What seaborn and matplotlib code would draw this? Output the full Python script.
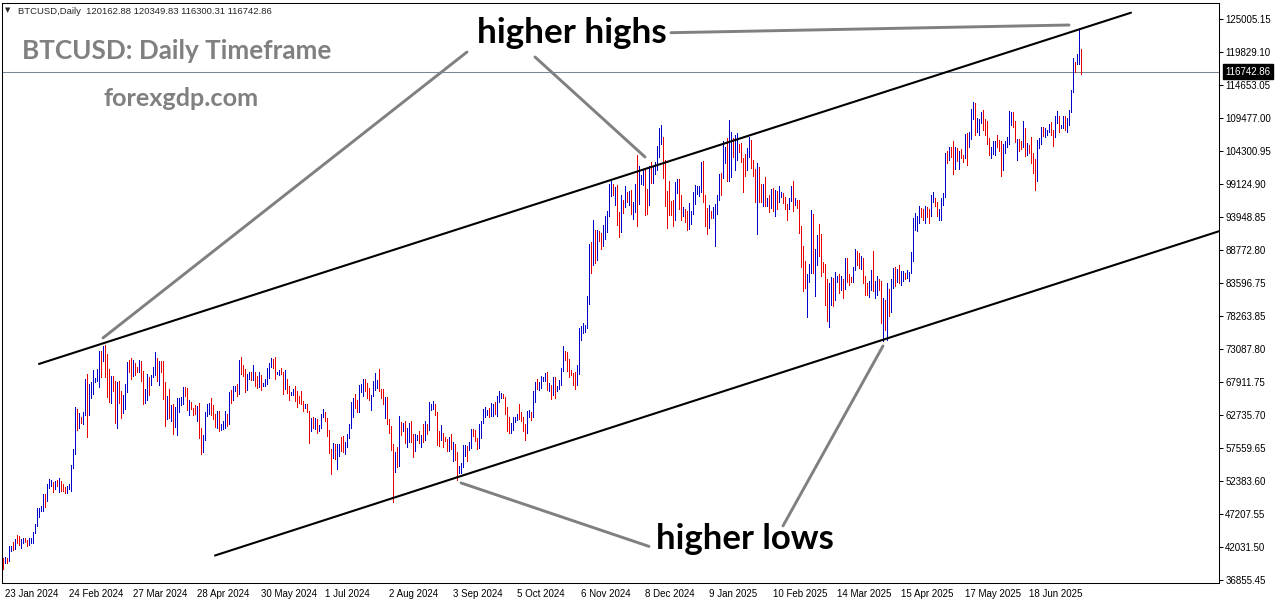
import matplotlib
matplotlib.use("Agg")
import matplotlib.pyplot as plt
from matplotlib.transforms import ScaledTranslation
import numpy as np
import pandas as pd
import seaborn as sns

# BTCUSD daily bars, 23 Jan 2024 .. 15 Jul 2025, prices in thousands of USD
start_date = "2024-01-23"
first_open_k = 40.2

high_k = [
    40.3, 40.5, 40.3, 42.2, 42.2, 42.8, 43.3, 43.9, 43.7,  # Jan 24
    43.3, 43.5, 43.4, 43.1, 43.5, 43.4, 44.4, 45.6, 48.2, 48.1, 48.5, 50.3, 50.4, 52.0, 52.8, 52.6, 52.2, 52.4, 52.5, 52.9, 52.4, 52.0, 51.5, 51.7, 51.9, 54.9, 57.5, 64.0, 63.7,  # Feb
    63.1, 62.4, 63.2, 68.5, 69.2, 67.6, 67.9, 69.9, 68.6, 70.0, 72.8, 72.9, 73.7, 73.8, 72.4, 70.0, 68.9, 68.9, 68.1, 68.0, 68.2, 66.6, 65.9, 67.6, 71.1, 71.5, 71.7, 71.5, 70.9, 70.3, 71.4,  # Mar
    71.3, 69.7, 66.9, 69.3, 68.7, 69.0, 70.3, 72.7, 71.8, 71.2, 71.3, 71.2, 67.9, 65.8, 66.8, 64.4, 64.5, 64.0, 65.4, 65.4, 65.6, 67.2, 67.2, 67.0, 65.2, 64.8, 63.9, 64.3, 64.2, 64.7,  # Apr
    60.8, 59.6, 63.3, 64.5, 64.6, 65.5, 64.4, 62.9, 63.4, 63.4, 61.4, 61.8, 63.4, 63.0, 66.4, 66.7, 67.4, 67.4, 67.7, 71.5, 71.9, 70.6, 70.0, 69.2, 69.6, 69.5, 70.6, 69.5, 68.9, 69.5, 69.0,  # May
    67.8, 68.4, 70.2, 71.0, 71.7, 71.6, 71.9, 69.5, 69.9, 70.2, 69.6, 69.9, 68.4, 67.3, 66.4, 66.9, 67.3, 66.5, 65.7, 66.5, 65.0, 64.5, 64.5, 63.4, 62.3, 62.5, 62.3, 62.2, 61.2, 63.0,  # Jun
    63.8, 63.3, 62.3, 60.5, 57.5, 58.4, 58.2, 58.2, 58.3, 59.4, 59.5, 58.5, 59.8, 61.4, 64.9, 65.4, 66.1, 65.1, 67.5, 67.6, 68.4, 68.5, 67.8, 67.1, 66.0, 68.2, 69.4, 68.3, 70.0, 66.9, 66.8,  # Jul
    65.6, 65.6, 62.2, 61.1, 58.3, 57.0, 57.7, 62.7, 61.7, 61.5, 61.8, 60.7, 61.6, 61.8, 59.8, 59.8, 59.7, 60.3, 59.6, 61.4, 61.8, 61.4, 64.9, 64.5, 65.0, 64.5, 63.2, 60.2, 61.2, 59.9, 59.4,  # Aug
    59.0, 59.4, 59.8, 58.5, 58.3, 56.9, 54.8, 55.3, 58.1, 58.0, 57.9, 58.6, 60.6, 60.6, 60.4, 59.2, 61.3, 61.8, 63.8, 64.1, 63.6, 63.9, 64.7, 64.5, 64.8, 65.8, 66.5, 66.3, 66.1, 65.6,  # Sep
    64.1, 62.4, 61.5, 62.5, 62.4, 63.0, 64.5, 63.2, 62.5, 61.3, 63.4, 63.5, 63.3, 66.5, 67.9, 68.4, 67.9, 68.9, 68.7, 69.4, 69.5, 67.8, 67.5, 68.8, 68.8, 67.4, 68.3, 70.2, 73.6, 72.9, 72.7,  # Oct
    71.6, 69.9, 69.4, 69.5, 70.6, 76.4, 76.8, 77.2, 76.9, 81.5, 89.6, 89.9, 93.4, 91.8, 91.9, 91.7, 91.4, 92.6, 94.0, 94.9, 99.0, 99.6, 99.0, 98.6, 98.9, 94.7, 97.3, 96.6, 98.7, 97.8,  # Nov
    98.0, 98.2, 96.3, 99.1, 103.7, 101.9, 100.5, 101.3, 101.3, 98.3, 101.9, 102.5, 101.9, 102.6, 105.1, 107.8, 108.3, 106.5, 102.8, 98.0, 99.5, 96.4, 96.5, 99.4, 99.9, 99.9, 97.3, 95.5, 95.2, 94.9, 96.1,  # Dec
    94.9, 97.8, 98.9, 98.7, 98.8, 102.5, 102.7, 97.3, 95.3, 95.8, 94.9, 95.4, 95.9, 97.3, 100.7, 100.8, 105.8, 104.9, 106.3, 109.1, 107.2, 106.3, 106.8, 107.1, 105.3, 105.5, 103.2, 103.8, 104.8, 106.4, 106.0,  # Jan 25
    102.8, 101.5, 102.4, 101.7, 99.0, 99.1, 100.1, 96.9, 97.3, 98.3, 98.5, 98.1, 98.0, 98.8, 97.9, 97.7, 97.0, 96.0, 96.9, 98.7, 99.5, 96.9, 96.6, 96.5, 92.5, 89.3, 87.0, 85.0,  # Feb
    86.5, 95.0, 94.4, 88.9, 91.0, 92.8, 91.2, 86.9, 86.5, 84.1, 83.6, 84.4, 84.3, 85.3, 84.7, 85.0, 84.7, 84.1, 87.4, 87.4, 84.9, 84.5, 86.1, 88.8, 88.5, 88.3, 87.8, 87.5, 84.6, 83.5, 83.9,  # Mar
    85.5, 88.5, 83.9, 84.7, 84.2, 83.8, 81.2, 80.8, 83.5, 82.6, 84.2, 85.9, 86.1, 85.8, 86.4, 85.4, 85.4, 85.1, 85.6, 85.3, 88.4, 93.8, 94.6, 94.0, 95.7, 95.3, 95.2, 95.6, 95.5, 95.2,  # Apr
    97.4, 97.9, 96.9, 96.3, 95.2, 96.9, 97.7, 103.9, 104.3, 104.9, 104.9, 105.8, 104.9, 104.7, 104.2, 104.6, 103.7, 107.0, 107.1, 107.3, 110.8, 111.9, 111.8, 109.5, 109.3, 110.4, 110.7, 109.3, 108.9, 106.3, 104.9,  # May
    105.9, 105.9, 106.8, 106.0, 105.9, 105.4, 105.9, 106.4, 110.6, 110.4, 110.4, 109.0, 106.2, 106.2, 105.9, 108.9, 107.8, 105.5, 105.2, 106.5, 104.0, 103.0, 106.0, 106.3, 108.1, 108.0, 107.8, 107.6, 108.5, 108.8,  # Jun
    107.5, 109.8, 110.5, 109.7, 108.4, 109.7, 109.7, 109.4, 110.7, 113.9, 118.8, 118.3, 119.5, 123.3, 120.35,  # Jul
]
low_k = [
    38.6, 39.5, 39.5, 39.8, 41.4, 41.6, 41.8, 42.7, 42.3,  # Jan 24
    41.9, 42.6, 42.9, 42.2, 42.3, 42.6, 42.7, 44.3, 45.3, 46.8, 47.7, 47.7, 48.4, 49.3, 51.3, 51.6, 50.7, 51.2, 51.6, 50.7, 50.8, 50.9, 50.5, 50.6, 51.2, 50.9, 54.4, 56.7, 60.4,  # Feb
    60.8, 61.6, 61.3, 62.8, 59.3, 62.8, 65.5, 66.1, 68.0, 68.2, 67.2, 68.8, 71.3, 68.7, 65.6, 64.8, 64.6, 66.6, 61.5, 60.8, 64.6, 62.3, 63.1, 63.8, 66.4, 69.5, 68.4, 68.9, 69.1, 69.6, 69.6,  # Mar
    68.2, 64.5, 64.6, 65.1, 66.0, 67.5, 68.8, 69.1, 68.2, 67.5, 69.6, 65.3, 61.0, 62.2, 62.3, 61.8, 59.8, 60.9, 59.7, 63.2, 64.3, 64.5, 65.8, 63.6, 62.8, 63.8, 62.8, 62.9, 61.8, 59.2,  # Apr
    56.6, 56.9, 58.8, 62.6, 62.9, 62.8, 62.2, 60.9, 60.7, 60.3, 60.5, 60.6, 60.8, 61.1, 61.4, 64.6, 65.1, 66.6, 65.8, 66.1, 69.2, 68.9, 66.4, 66.7, 68.4, 68.3, 68.3, 67.3, 67.1, 67.2, 66.7,  # May
    67.4, 67.3, 67.6, 68.6, 70.4, 70.2, 68.5, 69.2, 69.1, 69.2, 66.1, 66.9, 66.3, 65.1, 65.9, 66.0, 65.0, 64.1, 64.7, 64.5, 63.4, 63.9, 63.2, 58.4, 60.3, 60.7, 60.6, 60.0, 60.3, 60.7,  # Jun
    62.5, 61.8, 59.5, 56.8, 53.5, 56.0, 55.8, 54.3, 56.3, 57.2, 57.0, 56.6, 57.8, 59.2, 60.7, 62.5, 63.9, 63.2, 63.3, 66.4, 65.8, 66.6, 65.5, 65.1, 63.5, 65.8, 66.7, 67.0, 66.6, 65.4, 64.5,  # Jul
    62.3, 61.3, 59.9, 57.3, 49.1, 53.9, 54.6, 54.8, 59.7, 60.3, 58.4, 57.7, 58.5, 58.5, 56.2, 57.1, 58.8, 58.4, 57.8, 58.6, 58.8, 59.8, 60.4, 63.6, 63.8, 62.8, 58.1, 57.9, 58.8, 57.8, 58.7,  # Aug
    57.2, 57.1, 57.4, 55.6, 55.7, 52.6, 53.7, 53.6, 54.6, 56.4, 55.6, 57.3, 57.6, 59.5, 58.7, 57.5, 57.6, 59.2, 61.6, 62.4, 62.8, 62.4, 62.7, 62.7, 62.9, 62.7, 64.8, 65.4, 65.4, 62.9,  # Sep
    60.2, 60.0, 59.9, 60.4, 61.7, 62.0, 62.1, 61.8, 60.3, 58.9, 60.0, 62.4, 62.0, 62.4, 64.8, 66.8, 66.7, 67.0, 68.1, 68.1, 66.7, 66.6, 65.3, 66.0, 65.5, 66.5, 66.8, 67.5, 69.7, 71.4, 69.7,  # Oct
    68.8, 69.0, 67.5, 66.8, 67.5, 69.3, 74.5, 75.6, 75.9, 76.5, 80.2, 85.1, 86.3, 86.7, 87.1, 90.1, 88.8, 89.4, 90.4, 91.6, 94.1, 97.2, 97.3, 95.8, 92.6, 90.8, 91.6, 94.6, 95.4, 96.2,  # Nov
    95.8, 94.4, 93.6, 94.7, 92.5, 95.9, 99.1, 98.9, 94.2, 94.3, 95.8, 99.3, 99.2, 100.6, 101.2, 103.3, 105.3, 100.0, 95.7, 92.2, 94.2, 94.2, 92.5, 93.4, 97.6, 95.2, 93.5, 94.1, 93.1, 91.9, 92.0,  # Dec
    92.8, 94.4, 96.0, 97.5, 97.2, 97.9, 96.2, 92.5, 91.2, 92.2, 93.8, 93.7, 89.3, 94.3, 96.5, 97.3, 100.0, 102.3, 99.5, 99.6, 100.2, 103.3, 101.3, 102.8, 104.1, 102.5, 97.8, 100.3, 101.3, 103.3, 101.6,  # Jan 25
    100.3, 96.2, 91.2, 96.2, 96.2, 95.7, 95.7, 95.7, 94.7, 95.3, 94.9, 94.1, 95.2, 96.3, 97.1, 96.1, 95.2, 93.4, 95.1, 96.4, 94.9, 95.8, 95.3, 91.4, 86.1, 82.3, 82.8, 78.2,  # Feb
    83.7, 85.1, 85.1, 81.5, 86.3, 87.8, 84.7, 85.3, 80.0, 77.5, 76.6, 80.0, 79.9, 80.8, 83.7, 82.0, 82.4, 81.1, 82.6, 83.7, 83.2, 83.7, 83.7, 85.6, 86.3, 85.9, 85.8, 83.6, 81.6, 81.6, 81.3,  # Mar
    82.4, 82.3, 81.2, 81.7, 82.4, 77.2, 74.4, 76.2, 74.6, 78.4, 78.9, 82.7, 83.0, 83.7, 83.6, 83.2, 83.9, 84.1, 84.3, 83.9, 85.1, 87.0, 91.9, 91.7, 92.9, 93.9, 93.5, 92.9, 93.9, 92.9,  # Apr
    94.1, 96.3, 95.7, 94.1, 93.5, 93.5, 95.8, 97.0, 102.3, 102.9, 103.3, 100.7, 101.5, 102.7, 101.4, 103.1, 102.6, 103.1, 102.1, 104.9, 106.1, 109.3, 106.8, 107.3, 106.8, 108.7, 107.5, 106.7, 105.3, 103.6, 103.1,  # May
    103.8, 103.7, 104.9, 104.2, 100.4, 101.2, 103.9, 104.9, 105.3, 108.4, 108.1, 105.7, 102.8, 104.3, 104.5, 104.9, 103.4, 103.6, 103.9, 102.4, 100.8, 98.2, 99.6, 104.7, 105.4, 106.6, 106.4, 106.7, 107.2, 106.8,  # Jun
    105.0, 106.5, 108.6, 107.3, 107.8, 107.8, 107.5, 107.3, 108.4, 110.4, 113.6, 116.7, 117.9, 118.0, 116.3,  # Jul
]
close_k = [
    39.9, 40.1, 39.9, 41.8, 42.1, 42.0, 43.3, 42.9, 42.6,  # Jan 24
    43.1, 43.2, 43.0, 42.6, 42.7, 43.1, 44.3, 45.3, 47.1, 47.8, 48.3, 50.0, 49.7, 51.8, 51.9, 52.1, 51.7, 52.1, 51.8, 52.3, 51.8, 51.3, 50.7, 51.6, 51.7, 54.5, 57.1, 62.5, 61.2,  # Feb
    62.4, 62.0, 63.1, 68.3, 63.8, 66.1, 66.9, 68.3, 68.5, 69.0, 72.1, 71.5, 73.1, 71.4, 69.4, 65.3, 68.4, 67.6, 61.9, 67.9, 65.5, 63.8, 64.1, 67.2, 70.0, 69.9, 69.4, 71.0, 70.0, 69.6, 71.3,  # Mar
    69.7, 65.5, 66.0, 68.5, 67.8, 68.9, 69.4, 71.6, 69.1, 70.6, 70.0, 67.1, 63.8, 65.7, 63.4, 63.8, 61.3, 63.5, 63.8, 64.9, 64.9, 66.8, 66.4, 64.3, 64.5, 63.8, 63.4, 63.1, 63.8, 60.6,  # Apr
    58.3, 59.1, 62.9, 63.9, 64.0, 63.2, 62.3, 61.2, 63.1, 60.8, 60.8, 61.5, 62.9, 61.6, 66.3, 65.2, 67.0, 67.0, 66.3, 71.4, 70.1, 69.1, 67.9, 68.5, 69.3, 68.5, 69.4, 68.3, 67.6, 68.4, 67.5,  # May
    67.7, 67.8, 68.8, 70.6, 71.1, 70.8, 69.3, 69.3, 69.6, 69.5, 67.3, 68.2, 66.7, 66.0, 66.2, 66.6, 66.5, 65.2, 65.0, 64.9, 64.1, 64.3, 63.2, 60.3, 61.8, 60.9, 61.7, 60.3, 60.9, 62.7,  # Jun
    62.9, 62.1, 60.2, 57.0, 56.7, 58.2, 55.8, 56.7, 58.0, 57.7, 57.3, 57.9, 59.2, 60.8, 64.8, 65.1, 64.1, 63.9, 66.7, 67.2, 68.2, 67.6, 65.9, 65.4, 65.8, 67.9, 68.0, 68.3, 66.8, 66.2, 64.6,  # Jul
    65.4, 61.5, 60.7, 58.2, 54.0, 56.0, 55.0, 61.7, 60.9, 60.9, 58.7, 59.4, 60.6, 58.7, 57.5, 58.9, 59.5, 58.4, 59.5, 59.0, 61.2, 60.4, 64.1, 64.2, 64.2, 62.8, 59.4, 59.0, 59.4, 59.1, 58.9,  # Aug
    57.3, 59.1, 57.5, 58.0, 56.2, 53.9, 54.1, 54.8, 57.0, 57.6, 57.3, 58.1, 60.5, 60.0, 59.2, 58.2, 60.3, 61.7, 62.9, 63.2, 63.6, 63.3, 63.3, 64.2, 63.1, 65.2, 65.8, 65.8, 65.6, 63.3,  # Sep
    60.8, 60.6, 60.8, 62.1, 62.1, 62.8, 62.2, 62.1, 60.6, 60.3, 62.4, 63.2, 62.8, 66.1, 67.6, 67.4, 67.4, 68.4, 68.4, 69.0, 67.4, 67.4, 66.7, 68.2, 66.6, 67.0, 68.0, 69.9, 72.7, 72.3, 70.2,  # Oct
    69.5, 69.4, 68.8, 67.8, 69.4, 75.6, 75.9, 76.5, 76.7, 80.5, 88.7, 88.0, 90.5, 87.3, 91.1, 90.6, 89.9, 90.5, 92.3, 94.3, 98.4, 98.9, 97.8, 98.0, 93.0, 91.9, 95.9, 95.6, 97.5, 96.4,  # Nov
    97.2, 95.9, 96.0, 98.8, 97.0, 99.9, 99.9, 101.2, 97.4, 96.7, 101.2, 100.0, 101.4, 101.4, 104.3, 106.1, 106.1, 100.0, 97.5, 97.2, 95.2, 94.9, 94.7, 98.7, 99.4, 95.8, 94.2, 95.2, 93.6, 92.6, 93.4,  # Dec
    94.4, 96.9, 98.1, 98.2, 98.3, 102.1, 96.9, 95.0, 92.5, 94.7, 94.5, 94.5, 94.5, 96.5, 100.5, 99.9, 104.1, 104.4, 101.1, 102.0, 106.1, 103.7, 103.9, 104.8, 104.7, 102.6, 102.1, 101.3, 103.7, 104.7, 102.4,  # Jan 25
    100.7, 97.7, 101.4, 97.9, 96.6, 96.6, 96.5, 96.5, 96.1, 97.4, 95.8, 97.9, 96.6, 97.5, 97.6, 96.1, 95.8, 95.5, 96.6, 98.3, 96.1, 96.6, 96.3, 91.6, 88.7, 84.7, 84.4, 84.4,  # Feb
    86.0, 94.3, 86.1, 87.2, 90.6, 89.9, 86.7, 86.1, 80.7, 78.5, 82.9, 83.7, 81.1, 83.9, 84.3, 82.6, 84.1, 82.7, 86.9, 84.2, 84.0, 83.8, 86.1, 87.5, 87.4, 86.9, 87.2, 84.4, 82.6, 82.3, 82.5,  # Mar
    85.2, 82.5, 83.1, 83.8, 83.5, 78.4, 79.2, 76.3, 82.6, 79.6, 83.4, 85.3, 83.7, 84.5, 83.7, 84.0, 84.9, 84.4, 85.1, 85.2, 87.5, 93.4, 93.7, 93.9, 94.7, 94.6, 93.8, 95.0, 94.3, 94.2,  # Apr
    96.5, 96.9, 95.9, 94.3, 94.7, 96.8, 97.0, 103.2, 102.9, 104.6, 104.1, 102.8, 104.2, 103.5, 103.8, 103.5, 103.2, 106.5, 105.6, 106.8, 109.7, 111.7, 107.3, 107.8, 109.0, 109.4, 108.9, 107.8, 105.6, 103.9, 104.6,  # May
    105.7, 105.8, 105.4, 104.7, 101.6, 104.4, 105.6, 105.7, 110.3, 110.3, 108.7, 105.9, 106.1, 105.5, 105.4, 107.1, 104.6, 104.9, 104.6, 103.3, 102.1, 100.9, 105.6, 106.0, 107.3, 106.9, 107.1, 107.3, 108.4, 107.1,  # Jun
    105.7, 108.8, 109.6, 108.0, 108.2, 109.2, 108.3, 108.9, 110.6, 113.7, 117.5, 117.4, 119.1, 119.8, 116.74286,  # Jul
]

# price scale and date scale labels as printed on the chart
y_ticks = [125005.15, 119829.10, 114653.05, 109477.00, 104300.95, 99124.90,
           93948.85, 88772.80, 83596.75, 78263.85, 73087.80, 67911.75,
           62735.70, 57559.65, 52383.60, 47207.55, 42031.50, 36855.45]
x_tick_labels = ["23 Jan 2024", "24 Feb 2024", "27 Mar 2024", "28 Apr 2024",
                 "30 May 2024", "1 Jul 2024", "2 Aug 2024", "3 Sep 2024",
                 "5 Oct 2024", "6 Nov 2024", "8 Dec 2024", "9 Jan 2025",
                 "10 Feb 2025", "14 Mar 2025", "15 Apr 2025", "17 May 2025",
                 "18 Jun 2025"]
header = "BTCUSD,Daily  120162.88 120349.83 116300.31 116742.86"
last_price = 116742.86

# drawn trendlines: (date, price) pairs
channel_lines = {
    "upper": [("2024-02-10", 70805), ("2025-08-09", 125995)],
    "lower": [("2024-05-08", 40706), ("2025-09-24", 91860)],
}
pointer_lines = {
    "hh1": [("2024-03-13", 74890), ("2024-09-11", 119821)],
    "hh2": [("2024-10-15", 119035), ("2024-12-09", 103325)],
    "hh3": [("2024-12-22", 122853), ("2025-07-09", 124062)],
    "hl1": [("2024-09-08", 52111), ("2024-12-11", 42135)],
    "hl2": [("2025-02-16", 45355), ("2025-04-07", 73633)],
}

W, H = 1276, 604
sns.set_style("white")
plt.rcParams["font.family"] = ["Liberation Sans", "DejaVu Sans"]

fig = plt.figure(figsize=(W / 100, H / 100), dpi=100)
ax = fig.add_axes([2 / W, (H - 583) / H, 1217 / W, 580 / H])

t0 = pd.Timestamp(start_date)
days = np.arange(len(close_k))
high = np.array(high_k) * 1000
low = np.array(low_k) * 1000
close = np.array(close_k) * 1000
opens = np.r_[first_open_k * 1000, close[:-1]]  # crypto daily open = prior close
colors = np.where(close >= opens, "#0000C8", "#E80000")

ax.vlines(days, low, high, colors=colors, linewidth=0.5,
          antialiased=False, zorder=2)

# current price line
ax.axhline(last_price, color="#778899", lw=0.75, zorder=1)


def to_frame(lines):
    rows = []
    for name, pts in lines.items():
        for d, p in pts:
            rows.append({"seg": name, "day": (pd.Timestamp(d) - t0).days, "price": p})
    return pd.DataFrame(rows)


sns.lineplot(data=to_frame(channel_lines), x="day", y="price", units="seg",
             estimator=None, sort=False, color="black", lw=1.5, ax=ax, zorder=3)
sns.lineplot(data=to_frame(pointer_lines), x="day", y="price", units="seg",
             estimator=None, sort=False, color="#808080", lw=2.1, ax=ax, zorder=4)

ax.set_xlim(-0.5, 608)
ax.set_ylim(36384.2, 127518.8)
ax.set_xlabel("")
ax.set_ylabel("")

# y axis on the right, MT4 style
ax.yaxis.tick_right()
ax.set_yticks(y_ticks)
ax.set_yticklabels([f"{v:.2f}" for v in y_ticks])
ax.tick_params(axis="y", direction="out", length=3, width=0.75, pad=1.5,
               labelsize=7, colors="black")

x_pos = [(pd.to_datetime(s, format="%d %b %Y") - t0).days for s in x_tick_labels]
ax.set_xticks(x_pos)
ax.set_xticklabels(x_tick_labels)
ax.tick_params(axis="x", direction="out", length=3, width=0.75, pad=1,
               labelsize=7, colors="black")
shift = ScaledTranslation(2 / 100, 0, fig.dpi_scale_trans)
for lab in ax.get_xticklabels():
    lab.set_ha("left")
    lab.set_transform(lab.get_transform() + shift)

for sp in ax.spines.values():
    sp.set_visible(True)
    sp.set_color("black")
    sp.set_linewidth(0.75)

# last price tag on the price scale
ax.text(1.0 + 6 / 1217, last_price, f"{last_price:.2f}",
        transform=ax.get_yaxis_transform(), ha="left", va="center",
        fontsize=7, color="white", clip_on=False,
        bbox=dict(boxstyle="square,pad=0.25", fc="black", ec="black"))


def fpos(x, y):
    return x / W, 1 - y / H


fig.text(*fpos(5, 10), "\u25bc", fontsize=5, va="center", ha="left",
         family=["DejaVu Sans"])
fig.text(*fpos(18, 14), header, fontsize=6.8, va="baseline", ha="left")

big = dict(family="Lato", weight="bold")
fig.text(*fpos(22, 59), "BTCUSD: Daily Timeframe", fontsize=18.8,
         color="#808080", ha="left", va="baseline", **big)
fig.text(*fpos(103, 106), "forexgdp.com", fontsize=18.2,
         color="#808080", ha="left", va="baseline", **big)
fig.text(*fpos(477, 43), "higher highs", fontsize=25.3,
         color="black", ha="left", va="baseline", **big)
fig.text(*fpos(656, 549), "higher lows", fontsize=25.0,
         color="black", ha="left", va="baseline", **big)

fig.savefig("out.png", dpi=100)
plt.close(fig)
